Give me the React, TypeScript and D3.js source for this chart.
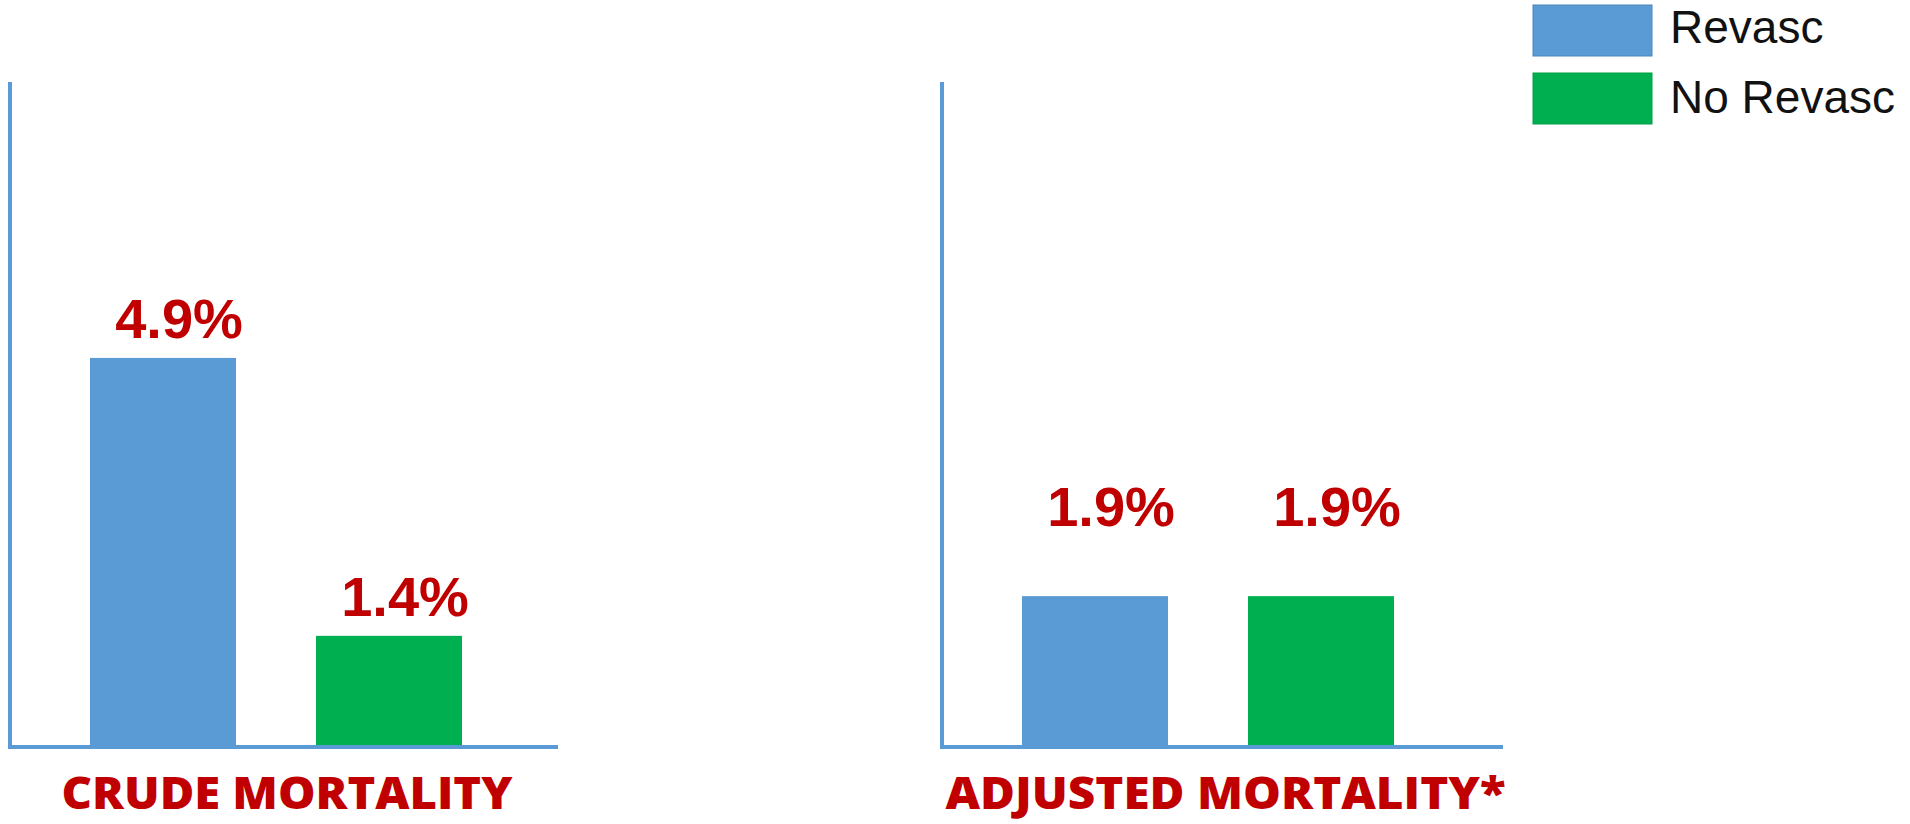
import React from "react";
import * as d3 from "d3";

// ---- data ----
const panels = ["CRUDE MORTALITY", "ADJUSTED MORTALITY*"];
const series = ["Revasc", "No Revasc"];
const revascValues = [4.9, 1.9];
const noRevascValues = [1.4, 1.9];
const valueLabels = [["4.9%", "1.4%"], ["1.9%", "1.9%"]];

const colors = ["#5b9bd5", "#00b050"];
const RED = "#c00000";
const AXIS = "#5b9bd5";

const W = 1910;
const H = 824;
const baseY = 747;
const topY = 82;

// panel layout (axis extents)
const panelLayout = [
  { x0: 10, x1: 558, labelGap: 20, labelWidth: 451 },
  { x0: 942, x1: 1503, labelGap: 70, labelWidth: 560 },
];

export default function App() {
  const y = d3.scaleLinear().domain([0, 5]).range([baseY, baseY - 397]);

  return (
    <svg
      width={W}
      height={H}
      viewBox={`0 0 ${W} ${H}`}
      style={{ position: "absolute", left: 0, top: 0, background: "#fff" }}
    >
      <rect x={0} y={0} width={W} height={H} fill="#fff" />
      {panels.map((p, pi) => {
        const L = panelLayout[pi];
        const x = d3
          .scaleBand<string>()
          .domain(series)
          .range([L.x0 + 80, L.x0 + 80 + 372])
          .paddingInner(0.354)
          .paddingOuter(0);
        const vals = [revascValues[pi], noRevascValues[pi]];
        return (
          <g key={p}>
            {series.map((s, si) => {
              const v = vals[si];
              const bx = x(s) as number;
              const bw = x.bandwidth();
              return (
                <g key={s}>
                  <rect
                    x={bx}
                    y={y(v)}
                    width={bw}
                    height={baseY - y(v)}
                    fill={colors[si]}
                  />
                  <text
                    x={bx + bw / 2 + 16}
                    y={y(v) - L.labelGap}
                    textAnchor="middle"
                    fontFamily="'Liberation Sans', Arial, sans-serif"
                    fontWeight="bold"
                    fontSize={56}
                    fill={RED}
                  >
                    {valueLabels[pi][si]}
                  </text>
                </g>
              );
            })}
            <path
              d={`M${L.x0},${topY} L${L.x0},${baseY} L${L.x1},${baseY}`}
              fill="none"
              stroke={AXIS}
              strokeWidth={4}
            />
            <text
              x={(L.x0 + L.x1) / 2 + 3}
              y={809}
              textAnchor="middle"
              fontFamily="'Open Sans', 'Noto Sans', sans-serif"
              fontWeight={800}
              fontSize={45}
              fill={RED}
              textLength={L.labelWidth}
              lengthAdjust="spacingAndGlyphs"
            >
              {p}
            </text>
          </g>
        );
      })}
      {/* legend */}
      {series.map((s, si) => (
        <g key={s}>
          <rect
            x={1533}
            y={5 + si * 68}
            width={119}
            height={51}
            fill={colors[si]}
            stroke={si === 0 ? "#4a86bf" : "#00a045"}
            strokeWidth={1}
          />
          <text
            x={1670}
            y={43 + si * 70}
            fontFamily="'Liberation Sans', Arial, sans-serif"
            fontSize={46}
            fill="#111"
          >
            {s}
          </text>
        </g>
      ))}
    </svg>
  );
}
